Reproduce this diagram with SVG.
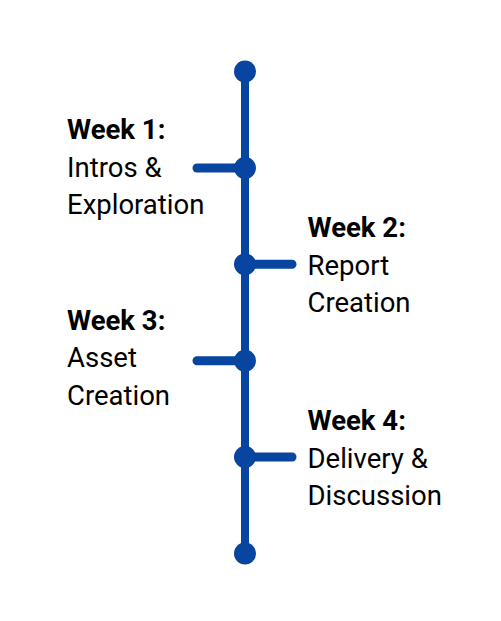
<svg xmlns="http://www.w3.org/2000/svg" width="501" height="621" viewBox="0 0 501 621">
<style>
.ln{stroke:#0845a0;stroke-width:8;stroke-linecap:round;fill:none}
.st{stroke:#0845a0;stroke-width:9;stroke-linecap:round;fill:none}
.dot{fill:#0845a0}
text{font-family:Roboto,"Liberation Sans",sans-serif;font-size:27.5px;fill:#000}
.b{font-weight:bold}
</style>
<rect width="501" height="621" fill="#fff"/>
<g id="connectors">
<line class="ln" x1="245" y1="71.5" x2="245" y2="553.5"/>
<line class="st" x1="197" y1="168" x2="245" y2="168"/>
<line class="st" x1="245" y1="264.3" x2="292" y2="264.3"/>
<line class="st" x1="197" y1="360.7" x2="245" y2="360.7"/>
<line class="st" x1="245" y1="457" x2="292" y2="457"/>
</g>
<g id="start"><circle class="dot" cx="245" cy="71.5" r="11"/></g>
<g id="week1">
<circle class="dot" cx="245" cy="168" r="11"/>
<text x="67" y="139"><tspan class="b">Week 1:</tspan><tspan x="67" dy="37.5">Intros &amp;</tspan><tspan x="67" dy="37.5">Exploration</tspan></text>
</g>
<g id="week2">
<circle class="dot" cx="245" cy="264.3" r="11"/>
<text x="307.5" y="237"><tspan class="b">Week 2:</tspan><tspan x="307.5" dy="37.5">Report</tspan><tspan x="307.5" dy="37.5">Creation</tspan></text>
</g>
<g id="week3">
<circle class="dot" cx="245" cy="360.7" r="11"/>
<text x="67" y="329.5"><tspan class="b">Week 3:</tspan><tspan x="67" dy="37.5">Asset</tspan><tspan x="67" dy="37.5">Creation</tspan></text>
</g>
<g id="week4">
<circle class="dot" cx="245" cy="457" r="11"/>
<text x="307.5" y="430"><tspan class="b">Week 4:</tspan><tspan x="307.5" dy="37.5">Delivery &amp;</tspan><tspan x="307.5" dy="37.5">Discussion</tspan></text>
</g>
<g id="end"><circle class="dot" cx="245" cy="553.5" r="11"/></g>
</svg>
